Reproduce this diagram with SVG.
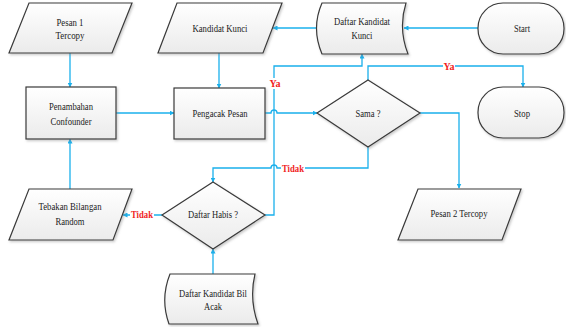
<svg xmlns="http://www.w3.org/2000/svg" width="566" height="327" viewBox="0 0 566 327">
  <defs>
    <linearGradient id="fill" x1="0" y1="0" x2="0" y2="1">
      <stop offset="0" stop-color="#ffffff"/>
      <stop offset="1" stop-color="#ebebeb"/>
    </linearGradient>
    <filter id="shadow" x="-10%" y="-10%" width="130%" height="140%">
      <feDropShadow dx="1.2" dy="1.5" stdDeviation="0.8" flood-color="#888" flood-opacity="0.45"/>
    </filter>
    <marker id="arrow" viewBox="0 0 10 10" refX="9" refY="5" markerWidth="5" markerHeight="5" orient="auto" markerUnits="userSpaceOnUse">
      <path d="M0,0 L10,5 L0,10 Z" fill="#1ab0ec"/>
    </marker>
  </defs>
  <style>
    .shape { fill: url(#fill); stroke: #3a3a3a; stroke-width: 1.2; filter: url(#shadow); }
    .label { font-family: "Liberation Serif", "Times New Roman", serif; font-size: 10px; fill: #222; text-anchor: middle; }
    .edge { fill: none; stroke: #1ab0ec; stroke-width: 1.3; }
    .cond { font-family: "Liberation Serif", "Times New Roman", serif; font-size: 10px; font-weight: bold; fill: #f01e1e; text-anchor: middle; }
    .bg { fill: #ffffff; }
  </style>

  <rect width="566" height="327" fill="#ffffff"/>

  <!-- connectors -->
  <g id="connectors">
    <path class="edge" d="M70,53 V87" marker-end="url(#arrow)"/>
    <path class="edge" d="M70,189 V139" marker-end="url(#arrow)"/>
    <path class="edge" d="M116,113 H174" marker-end="url(#arrow)"/>
    <path class="edge" d="M219,53 V88" marker-end="url(#arrow)"/>
    <path class="edge" d="M317,28 H273" marker-end="url(#arrow)"/>
    <path class="edge" d="M478,28 H404" marker-end="url(#arrow)"/>
    <path class="edge" d="M265,113 H271 A3,3 0 0 1 277,113 H317" marker-end="url(#arrow)"/>
    <path class="edge" d="M368,80 V66 H523 V87" marker-end="url(#arrow)"/>
    <path class="edge" d="M368,147 V168 H277 A3,3 0 0 0 271,168 H213 V182" marker-end="url(#arrow)"/>
    <path class="edge" d="M265,215 H274 V66 H362 V54" marker-end="url(#arrow)"/>
    <path class="edge" d="M162,215 H123" marker-end="url(#arrow)"/>
    <path class="edge" d="M420,113 H459 V188" marker-end="url(#arrow)"/>
    <path class="edge" d="M213,274 V249" marker-end="url(#arrow)"/>

    <!-- branch labels -->
    <rect class="bg" x="269" y="78" width="12" height="11"/>
    <text class="cond" x="275" y="87">Ya</text>
    <rect class="bg" x="443" y="61" width="12" height="11"/>
    <text class="cond" x="449" y="70">Ya</text>
    <rect class="bg" x="281" y="163" width="24" height="11"/>
    <text class="cond" x="293" y="172" textLength="22" lengthAdjust="spacingAndGlyphs">Tidak</text>
    <rect class="bg" x="130" y="209" width="24" height="11"/>
    <text class="cond" x="142" y="218" textLength="22" lengthAdjust="spacingAndGlyphs">Tidak</text>
  </g>

  <g id="pesan1">
    <path class="shape" d="M29,3 H132 L112,53 H9 Z"/>
    <text class="label" x="70" y="26" textLength="27" lengthAdjust="spacingAndGlyphs">Pesan 1</text>
    <text class="label" x="70" y="39" textLength="29" lengthAdjust="spacingAndGlyphs">Tercopy</text>
  </g>

  <g id="kandidatKunci">
    <path class="shape" d="M177,3 H282 L263,53 H158 Z"/>
    <text class="label" x="220" y="31.5" textLength="55" lengthAdjust="spacingAndGlyphs">Kandidat Kunci</text>
  </g>

  <g id="daftarKandidatKunci">
    <path class="shape" d="M322,3 H406 Q398,28 408,54 H322 Q311,28 322,3 Z"/>
    <text class="label" x="362" y="25" textLength="56" lengthAdjust="spacingAndGlyphs">Daftar Kandidat</text>
    <text class="label" x="362" y="39" textLength="21" lengthAdjust="spacingAndGlyphs">Kunci</text>
  </g>

  <g id="start">
    <rect class="shape" x="478" y="3" width="86" height="51" rx="25" ry="25"/>
    <text class="label" x="522" y="32" textLength="16" lengthAdjust="spacingAndGlyphs">Start</text>
  </g>

  <g id="stop">
    <rect class="shape" x="478" y="87" width="86" height="51" rx="25" ry="25"/>
    <text class="label" x="522" y="116.5" textLength="16" lengthAdjust="spacingAndGlyphs">Stop</text>
  </g>

  <g id="penambahan">
    <rect class="shape" x="26" y="87" width="90" height="52"/>
    <text class="label" x="71" y="109.5" textLength="44" lengthAdjust="spacingAndGlyphs">Penambahan</text>
    <text class="label" x="71" y="125" textLength="41" lengthAdjust="spacingAndGlyphs">Confounder</text>
  </g>

  <g id="pengacak">
    <rect class="shape" x="174" y="88" width="91" height="51"/>
    <text class="label" x="220" y="116.5" textLength="55" lengthAdjust="spacingAndGlyphs">Pengacak Pesan</text>
  </g>

  <g id="sama">
    <path class="shape" d="M368,80 L420,113 L368,147 L317,113 Z"/>
    <text class="label" x="368" y="116.5" textLength="25" lengthAdjust="spacingAndGlyphs">Sama ?</text>
  </g>

  <g id="pesan2">
    <path class="shape" d="M418,189 H521 L502,240 H398 Z"/>
    <text class="label" x="459" y="217" textLength="57" lengthAdjust="spacingAndGlyphs">Pesan 2 Tercopy</text>
  </g>

  <g id="daftarHabis">
    <path class="shape" d="M213,182 L265,215 L213,249 L162,215 Z"/>
    <text class="label" x="213" y="218" textLength="50" lengthAdjust="spacingAndGlyphs">Daftar Habis ?</text>
  </g>

  <g id="tebakan">
    <path class="shape" d="M29,189 H132 L113,240 H9 Z"/>
    <text class="label" x="70" y="209.5" textLength="63" lengthAdjust="spacingAndGlyphs">Tebakan Bilangan</text>
    <text class="label" x="70" y="225" textLength="29" lengthAdjust="spacingAndGlyphs">Random</text>
  </g>

  <g id="daftarKandidatBil">
    <path class="shape" d="M170,274 H255 Q249,299 258,324 H169 Q160,299 170,274 Z"/>
    <text class="label" x="213" y="297" textLength="68" lengthAdjust="spacingAndGlyphs">Daftar Kandidat Bil</text>
    <text class="label" x="213" y="310" textLength="18" lengthAdjust="spacingAndGlyphs">Acak</text>
  </g>
</svg>
